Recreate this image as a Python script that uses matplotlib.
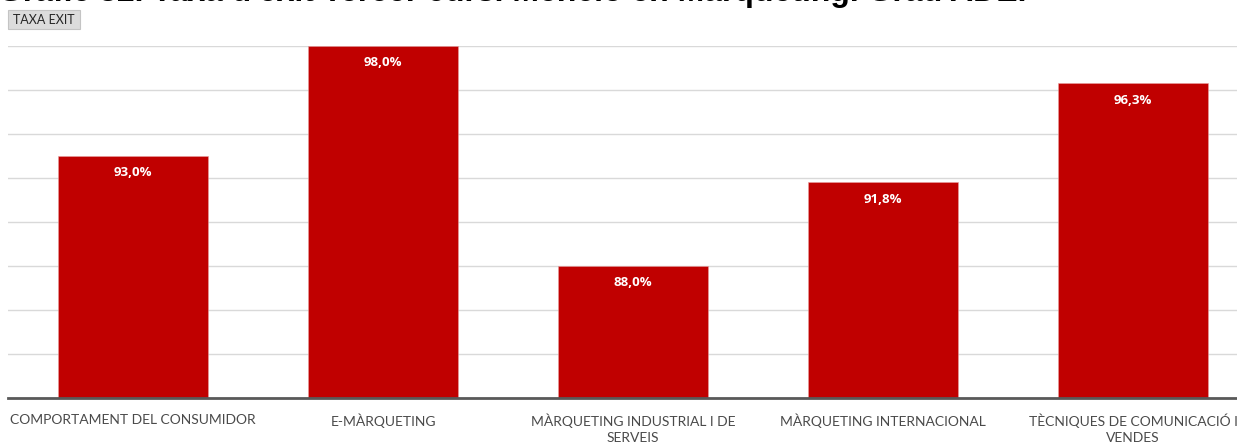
"""Taxa d'èxit per assignatura - Menció en Màrqueting (bar chart)."""

import matplotlib
matplotlib.use("Agg")
import matplotlib.pyplot as plt
from matplotlib.patches import Rectangle

# data
categories = ['COMPORTAMENT DEL CONSUMIDOR',
              'E-MÀRQUETING',
              'MÀRQUETING INDUSTRIAL I DE\nSERVEIS',
              'MÀRQUETING INTERNACIONAL',
              'TÈCNIQUES DE COMUNICACIÓ I\nVENDES']
taxa_exit = [93.0, 98.0, 88.0, 91.8, 96.3]
value_labels = ['93,0%', '98,0%', '88,0%', '91,8%', '96,3%']
y_ticks = [82, 84, 86, 88, 90, 92, 94, 96, 98]

title = "Gràfic 32. Taxa d'èxit Tercer curs. Menció en Màrqueting. Grau ADE."

W, H = 1237, 444
fig = plt.figure(figsize=(W / 100, H / 100), dpi=100)

# axes placed in pixel terms; the right side runs past the image edge
ax = fig.add_axes([8 / W, (H - 398) / H, 1250 / W, 352 / H])

x = range(len(categories))
bars = ax.bar(x, taxa_exit, width=0.6, bottom=0, color='#C00000',
              edgecolor='#e8a0a0', linewidth=0.4, zorder=3)

ax.set_xlim(-0.5, len(categories) - 0.5)
ax.set_ylim(y_ticks[0], y_ticks[-1])
ax.set_yticks(y_ticks)
ax.yaxis.grid(True, color='#d9d9d9', linewidth=1.0, zorder=0)
ax.tick_params(axis='y', left=False, labelleft=False)
ax.tick_params(axis='x', bottom=False, pad=8)
ax.set_xticks(list(x))
ax.set_xticklabels(categories, family='Lato', fontsize=10, color='#4a4a4a',
                   linespacing=1.35, va='top')

for side in ['left', 'right', 'top']:
    ax.spines[side].set_visible(False)
ax.spines['bottom'].set_color('#595959')
ax.spines['bottom'].set_linewidth(2)
ax.spines['bottom'].set_zorder(4)

# value labels just inside the top of each bar
for rect, lab in zip(bars, value_labels):
    ax.annotate(lab, (rect.get_x() + rect.get_width() / 2, rect.get_height()),
                xytext=(0, -12), textcoords='offset points',
                ha='center', va='center', color='white',
                fontsize=9.5, fontweight='bold', family='Open Sans', zorder=5)

# title, cut off by the top edge as in the source screenshot
fig.text(-2 / W, (H - 1) / H, title, ha='left', va='baseline',
         fontsize=23, fontweight='bold', family='Liberation Sans',
         color='black')

# pivot field button
fig.patches.append(Rectangle((8 / W, (H - 29) / H), 72 / W, 19 / H,
                             transform=fig.transFigure, facecolor='#dcdcdc',
                             edgecolor='#c4c4c4', linewidth=0.8))
fig.text(44 / W, (H - 19.5) / H, 'TAXA EXIT', ha='center', va='center',
         fontsize=9, family='Lato', color='#262626')

fig.savefig('out.png', dpi=100)
